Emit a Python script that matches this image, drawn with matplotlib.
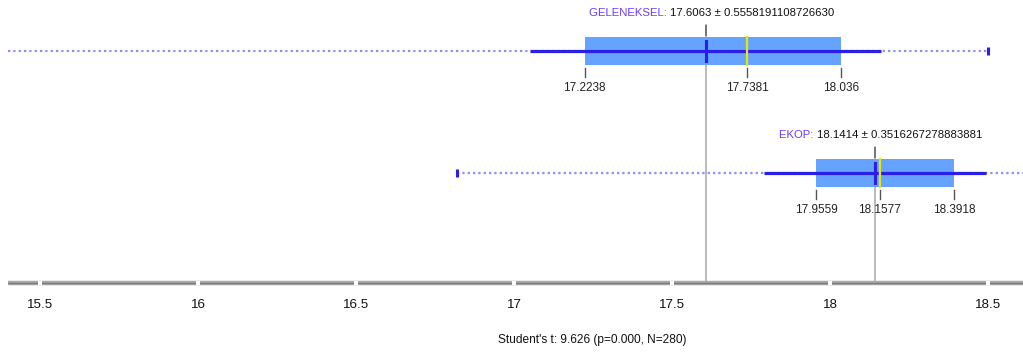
import matplotlib
matplotlib.use("Agg")
import matplotlib.pyplot as plt

# ---- data ----
groups = ["GELENEKSEL", "EKOP"]
means = [17.6063, 18.1414]
sds = [0.5558191108726630, 0.3516267278883881]
sd_text = ["0.5558191108726630", "0.3516267278883881"]
q1 = [17.2238, 17.9559]
medians = [17.7381, 18.1577]
q3 = [18.036, 18.3918]
mins = [15.35, 16.82]
maxs = [18.5, 18.7]
xticks = [15.5, 16, 16.5, 17, 17.5, 18, 18.5]
xtick_labels = ["15.5", "16", "16.5", "17", "17.5", "18", "18.5"]
stat_label = "Student's t: 9.626 (p=0.000, N=280)"

# ---- style ----
plt.rcParams["font.family"] = ["Liberation Sans", "DejaVu Sans"]
FS = 8.2

W, H = 1023, 354
DPI = 100
fig = plt.figure(figsize=(W / DPI, H / DPI), dpi=DPI)
fig.patch.set_facecolor("white")

# full-figure axes; y in pixel rows (top = 0)
px_per_unit = 316.0
x_left = 15.5 - 40 / px_per_unit
x_right = 15.5 + (W - 40) / px_per_unit
ax = fig.add_axes([0, 0, 1, 1])
ax.set_xlim(x_left, x_right)
ax.set_ylim(H, 0)
ax.axis("off")

clip_left = x_left + 8 / px_per_unit

box_color = "#66a3ff"
whisker_color = "#2a1fe6"
dot_color = "#8c8cff"
name_color = "#6a3cff"
tick_gray = "#555555"
mean_gray = "#b4b4b4"

row_y = [51, 173]
half_h = 14
axis_y = 283

renderer = fig.canvas.get_renderer()

for i, g in enumerate(groups):
    y = row_y[i]
    # range (dotted)
    ax.plot([max(mins[i], clip_left), maxs[i]], [y, y], color=dot_color, lw=1.6,
            linestyle=(0, (1, 1.4)), solid_capstyle="butt", zorder=2)
    for v in (mins[i], maxs[i]):
        if clip_left < v < x_right:
            ax.plot([v, v], [y - 4, y + 4], color=whisker_color, lw=2.2, zorder=3,
                    solid_capstyle="butt")
    # mean reference line down to the axis
    ax.plot([means[i], means[i]], [y - 26, axis_y], color=mean_gray, lw=1.3, zorder=1)
    ax.plot([means[i], means[i]], [y - 25, y - 16], color="#707070", lw=1.3, zorder=1.5)
    # interquartile box
    ax.fill_between([q1[i], q3[i]], y - half_h, y + half_h, color=box_color,
                    linewidth=0, zorder=2.5)
    # mean ± sd
    ax.plot([means[i] - sds[i], means[i] + sds[i]], [y, y], color=whisker_color,
            lw=2.3, solid_capstyle="butt", zorder=4)
    # median and mean markers
    ax.plot([medians[i], medians[i]], [y - half_h, y + half_h], color="#e8e800",
            lw=1.6, zorder=4.5)
    ax.plot([means[i], means[i]], [y - 10, y + 10], color=whisker_color, lw=2.2,
            zorder=5)
    # quartile / median ticks and labels
    for v in (q1[i], medians[i], q3[i]):
        ax.plot([v, v], [y + half_h + 3, y + half_h + 12], color=tick_gray, lw=1.0,
                zorder=3)
        ax.text(v, y + 37, f"{v:g}", ha="center", va="center", fontsize=FS + 0.3,
                color="#222222", zorder=6)
    # header: "NAME: mean ± sd"
    name_txt = f"{g}: "
    val_txt = f"{means[i]:.4f} \u00b1 {sd_text[i]}"
    t1 = ax.text(0, 0, name_txt, fontsize=FS)
    t2 = ax.text(0, 0, val_txt, fontsize=FS)
    w1 = t1.get_window_extent(renderer).width
    w2 = t2.get_window_extent(renderer).width
    t1.remove(); t2.remove()
    cx = (means[i] - x_left) * px_per_unit + 6
    start_px = cx - (w1 + w2) / 2
    start = x_left + start_px / px_per_unit
    ax.text(start, y - 38, name_txt, ha="left", va="center", fontsize=FS,
            color=name_color, zorder=6)
    ax.text(start + w1 / px_per_unit, y - 38, val_txt, ha="left", va="center",
            fontsize=FS, color="#111111", zorder=6)

# bottom axis
ax.plot([clip_left, x_right], [axis_y, axis_y], color="#a8a8a8", lw=3.2,
        solid_capstyle="butt", zorder=3)
ax.plot([clip_left, x_right], [axis_y, axis_y], color="#7c7c7c", lw=1.0,
        solid_capstyle="butt", zorder=3.2)
for xt, lab in zip(xticks, xtick_labels):
    ax.plot([xt], [axis_y], marker="s", markersize=2.6, color="white",
            markeredgewidth=0, zorder=4)
    ax.text(xt, axis_y + 22, lab, ha="center", va="center", fontsize=9.6,
            color="#111111")

ax.text(x_left + 592 / px_per_unit, 340, stat_label, ha="center", va="center",
        fontsize=FS + 0.4, color="#111111")

fig.savefig("out.png", dpi=DPI, facecolor="white")
